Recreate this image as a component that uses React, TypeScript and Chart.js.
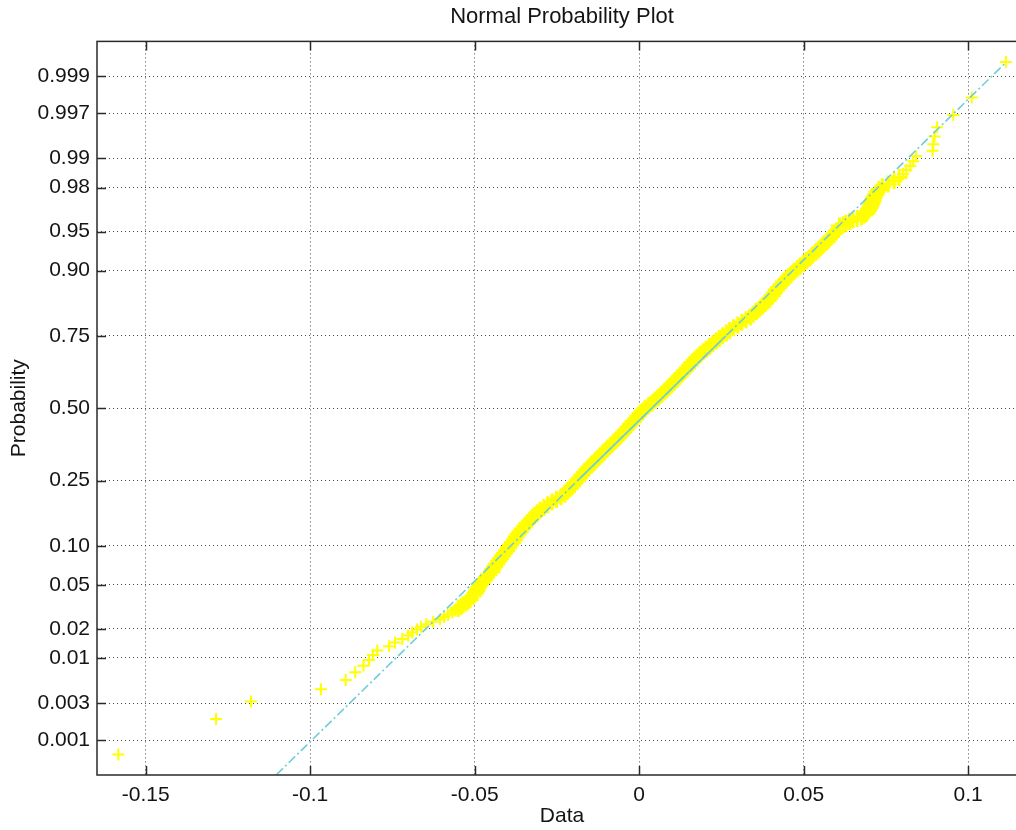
import { useEffect, useRef } from 'react';
import { Chart, registerables } from 'chart.js';

Chart.register(...registerables);

// ---------- data ----------
// lower tail: individual order statistics (x value, plotting probability)
const lowerTailX = [-0.1583, -0.1286, -0.1180, -0.0967, -0.0892, -0.0863, -0.0838, -0.0821, -0.0809, -0.0796,
  -0.0760, -0.0742, -0.0720, -0.0702, -0.0690, -0.0675, -0.0663, -0.0647, -0.0626, -0.0605,
  -0.0593, -0.0581, -0.0568, -0.0559, -0.0550, -0.0541, -0.0535, -0.0526, -0.0520, -0.0514];
const lowerTailP = [0.00063, 0.0019, 0.00316, 0.00443, 0.0057, 0.00696, 0.00823, 0.0095, 0.01076, 0.01203,
  0.0133, 0.01456, 0.01582, 0.01709, 0.01835, 0.01962, 0.02089, 0.02215, 0.02342, 0.02468,
  0.02595, 0.02722, 0.02848, 0.02975, 0.03101, 0.03228, 0.03354, 0.03481, 0.03608, 0.03734];

// dense central band
const bodyX = [-0.0505, -0.0498, -0.0494, -0.0489, -0.0484, -0.0477, -0.0470, -0.0464, -0.0457, -0.0448,
  -0.0445, -0.0439, -0.0433, -0.0427, -0.0421, -0.0415, -0.0409, -0.0403, -0.0397, -0.0391,
  -0.0385, -0.0379, -0.0374, -0.0368, -0.0362, -0.0356, -0.0348, -0.0341, -0.0333, -0.0326,
  -0.0318, -0.0310, -0.0301, -0.0290, -0.0278, -0.0265, -0.0251, -0.0237, -0.0226, -0.0218,
  -0.0210, -0.0203, -0.0196, -0.0188, -0.0181, -0.0174, -0.0167, -0.0160, -0.0153, -0.0145,
  -0.0136, -0.0128, -0.0120, -0.0112, -0.0104, -0.0096, -0.0088, -0.0079, -0.0071, -0.0063,
  -0.0055, -0.0047, -0.0040, -0.0033, -0.0026, -0.0018, -0.0011, -0.0004, 0.0003, 0.0011,
  0.0018, 0.0029, 0.0040, 0.0049, 0.0058, 0.0067, 0.0076, 0.0084, 0.0092, 0.0100,
  0.0108, 0.0116, 0.0124, 0.0132, 0.0139, 0.0147, 0.0154, 0.0161, 0.0168, 0.0176,
  0.0185, 0.0195, 0.0204, 0.0214, 0.0224, 0.0234, 0.0244, 0.0254, 0.0265, 0.0275,
  0.0287, 0.0300, 0.0312, 0.0325, 0.0338, 0.0347, 0.0356, 0.0365, 0.0375, 0.0383,
  0.0392, 0.0398, 0.0405, 0.0411, 0.0417, 0.0424, 0.0431, 0.0439, 0.0447, 0.0454,
  0.0462, 0.0471, 0.0481, 0.0490, 0.0500, 0.0509, 0.0518, 0.0527, 0.0536, 0.0545,
  0.0553, 0.0561, 0.0570, 0.0577, 0.0585, 0.0593, 0.0600];
const bodyP = [0.0401, 0.04235, 0.0446, 0.04705, 0.0495, 0.05215, 0.0548, 0.0577, 0.0606, 0.0637,
  0.0668, 0.07015, 0.0735, 0.07715, 0.0808, 0.08465, 0.0885, 0.09265, 0.0968, 0.1012,
  0.1056, 0.11035, 0.1151, 0.1201, 0.1251, 0.1304, 0.1357, 0.1413, 0.1469, 0.1528,
  0.1587, 0.1649, 0.1711, 0.1776, 0.1841, 0.1909, 0.1977, 0.2048, 0.2119, 0.21925,
  0.2266, 0.2343, 0.2420, 0.2499, 0.2578, 0.26605, 0.2743, 0.28275, 0.2912, 0.29985,
  0.3085, 0.31745, 0.3264, 0.3355, 0.3446, 0.3539, 0.3632, 0.37265, 0.3821, 0.3917,
  0.4013, 0.4110, 0.4207, 0.43055, 0.4404, 0.4503, 0.4602, 0.47015, 0.4801, 0.49005,
  0.5000, 0.50995, 0.5199, 0.52985, 0.5398, 0.5497, 0.5596, 0.56945, 0.5793, 0.5890,
  0.5987, 0.6083, 0.6179, 0.62735, 0.6368, 0.6461, 0.6554, 0.6645, 0.6736, 0.68255,
  0.6915, 0.70015, 0.7088, 0.71725, 0.7257, 0.73395, 0.7422, 0.7501, 0.7580, 0.7657,
  0.7734, 0.78075, 0.7881, 0.7952, 0.8023, 0.8091, 0.8159, 0.8224, 0.8289, 0.8351,
  0.8413, 0.8472, 0.8531, 0.8587, 0.8643, 0.8696, 0.8749, 0.8799, 0.8849, 0.88965,
  0.8944, 0.8988, 0.9032, 0.90735, 0.9115, 0.91535, 0.9192, 0.92285, 0.9265, 0.92985,
  0.9332, 0.9363, 0.9394, 0.9423, 0.9452, 0.94785, 0.9505];

// upper tail: individual order statistics
const upperTailX = [0.0609, 0.0620, 0.0629, 0.0640, 0.0650, 0.0663, 0.0676, 0.0685, 0.0691, 0.0695,
  0.0698, 0.0701, 0.0704, 0.0707, 0.0710, 0.0711, 0.0714, 0.0719, 0.0723, 0.0729,
  0.0739, 0.0757, 0.0775, 0.0790, 0.0802, 0.0812, 0.0824, 0.0833, 0.0842, 0.0892,
  0.0894, 0.0898, 0.0906, 0.0955, 0.1011, 0.1115];
const upperTailP = [0.95506, 0.95633, 0.95759, 0.95886, 0.96013, 0.96139, 0.96266, 0.96392, 0.96519, 0.96646,
  0.96772, 0.96899, 0.97025, 0.97152, 0.97278, 0.97405, 0.97532, 0.97658, 0.97785, 0.97911,
  0.98038, 0.98165, 0.98291, 0.98418, 0.98544, 0.98671, 0.98797, 0.98924, 0.9905, 0.99177,
  0.99304, 0.9943, 0.99557, 0.99684, 0.9981, 0.99937];

// reference line through the 1st and 3rd quartiles
const quartileX = [-0.0187, 0.0264];
const quartileP = [0.25, 0.75];

// axes
const xTickValues = [-0.15, -0.1, -0.05, 0, 0.05, 0.1];
const xTickLabels = ['-0.15', '-0.1', '-0.05', '0', '0.05', '0.1'];
const yTickProbs = [0.001, 0.003, 0.01, 0.02, 0.05, 0.1, 0.25, 0.5, 0.75, 0.9, 0.95, 0.98, 0.99, 0.997, 0.999];
const yTickLabels = ['0.001', '0.003', '0.01', '0.02', '0.05', '0.10', '0.25', '0.50', '0.75', '0.90', '0.95', '0.98', '0.99', '0.997', '0.999'];
const xLimits = [-0.1648, 0.1179];
const yLimitsZ = [-3.416, 3.416];

// ---------- probability (normal quantile) scale transform ----------
function norminv(p: number): number {
  const a = [-3.969683028665376e1, 2.209460984245205e2, -2.759285104469687e2, 1.38357751867269e2, -3.066479806614716e1, 2.506628277459239];
  const b = [-5.447609879822406e1, 1.615858368580409e2, -1.556989798598866e2, 6.680131188771972e1, -1.328068155288572e1];
  const c = [-7.784894002430293e-3, -3.223964580411365e-1, -2.400758277161838, -2.549732539343734, 4.374664141464968, 2.938163982698783];
  const d = [7.784695709041462e-3, 3.224671290700398e-1, 2.445134137142996, 3.754408661907416];
  const plow = 0.02425;
  if (p < plow) {
    const q = Math.sqrt(-2 * Math.log(p));
    return (((((c[0] * q + c[1]) * q + c[2]) * q + c[3]) * q + c[4]) * q + c[5]) / ((((d[0] * q + d[1]) * q + d[2]) * q + d[3]) * q + 1);
  }
  if (p > 1 - plow) {
    const q = Math.sqrt(-2 * Math.log(1 - p));
    return -(((((c[0] * q + c[1]) * q + c[2]) * q + c[3]) * q + c[4]) * q + c[5]) / ((((d[0] * q + d[1]) * q + d[2]) * q + d[3]) * q + 1);
  }
  const q = p - 0.5;
  const r = q * q;
  return (((((a[0] * r + a[1]) * r + a[2]) * r + a[3]) * r + a[4]) * r + a[5]) * q / (((((b[0] * r + b[1]) * r + b[2]) * r + b[3]) * r + b[4]) * r + 1);
}

const FONT = "'Liberation Sans', Arial, Helvetica, sans-serif";
const TEXT = '#141414';
const MARKER = 'rgb(255,255,0)';
const LINE = 'rgb(112,206,214)';

const framePlugin = {
  id: 'matlabFrame',
  afterDraw(chart: any) {
    const { ctx, chartArea } = chart;
    const { left, right, top, bottom } = chartArea;
    const xs = chart.scales.x;
    const ys = chart.scales.y;
    ctx.save();
    ctx.strokeStyle = '#2a2a2a';
    ctx.lineWidth = 1.5;
    ctx.strokeRect(left, top, right - left, bottom - top);
    ctx.beginPath();
    const tl = 9;
    xs.ticks.forEach((t: any) => {
      const px = Math.round(xs.getPixelForValue(t.value)) + 0.5;
      ctx.moveTo(px, bottom); ctx.lineTo(px, bottom - tl);
      ctx.moveTo(px, top); ctx.lineTo(px, top + tl);
    });
    ys.ticks.forEach((t: any) => {
      const py = Math.round(ys.getPixelForValue(t.value)) + 0.5;
      ctx.moveTo(left, py); ctx.lineTo(left + tl, py);
      ctx.moveTo(right, py); ctx.lineTo(right - tl, py);
    });
    ctx.stroke();
    ctx.restore();
  },
};

export default function App() {
  const ref = useRef<HTMLCanvasElement | null>(null);

  useEffect(() => {
    if (!ref.current) return;
    const obsX = [...lowerTailX, ...bodyX, ...upperTailX];
    const obsP = [...lowerTailP, ...bodyP, ...upperTailP];
    const points = obsX.map((x, i) => ({ x, y: norminv(obsP[i]) }));
    const bodyStart = lowerTailX.length;
    const bodyEnd = lowerTailX.length + bodyX.length;
    const inBody = (i: number) => i >= bodyStart - 6 && i < bodyEnd + 24;

    const z1 = norminv(quartileP[0]);
    const z3 = norminv(quartileP[1]);
    const zAt = (x: number) => z1 + ((x - quartileX[0]) * (z3 - z1)) / (quartileX[1] - quartileX[0]);
    const xmin = Math.min(...obsX);
    const xmax = Math.max(...obsX);

    const tickFont = { family: FONT, size: 21 };

    const chart = new Chart(ref.current, {
      type: 'scatter',
      data: {
        datasets: [
          {
            data: [{ x: xmin, y: zAt(xmin) }, { x: xmax, y: zAt(xmax) }],
            showLine: true,
            borderColor: LINE,
            borderWidth: 1.6,
            borderDash: [9, 3, 2, 3],
            pointRadius: 0,
            order: 0,
          },
          {
            data: [{ x: quartileX[0], y: z1 }, { x: quartileX[1], y: z3 }],
            showLine: true,
            borderColor: LINE,
            borderWidth: 1.6,
            pointRadius: 0,
            order: 0,
          },
          {
            data: points,
            showLine: false,
            pointStyle: 'cross',
            pointRadius: (c: any) => (inBody(c.dataIndex) ? 8.5 : 6),
            pointHoverRadius: (c: any) => (inBody(c.dataIndex) ? 8.5 : 6),
            pointBorderWidth: (c: any) => (inBody(c.dataIndex) ? 3 : 2),
            borderColor: MARKER,
            backgroundColor: MARKER,
            order: 1,
          },
        ],
      } as any,
      options: {
        responsive: false,
        devicePixelRatio: 1,
        animation: false,
        events: [],
        layout: { padding: { left: 0, right: 13, top: 0, bottom: 0 } },
        plugins: {
          legend: { display: false },
          tooltip: { enabled: false },
          title: {
            display: true,
            text: 'Normal Probability Plot',
            fullSize: false,
            color: TEXT,
            font: { family: FONT, size: 22, weight: 'normal' },
            padding: { top: 4, bottom: 11 },
          },
        },
        scales: {
          x: {
            type: 'linear',
            min: xLimits[0],
            max: xLimits[1],
            afterBuildTicks: (s: any) => {
              s.ticks = xTickValues.map((v) => ({ value: v }));
            },
            afterFit: (s: any) => {
              s.height = 55;
            },
            ticks: {
              callback: (_v: any, i: number) => xTickLabels[i],
              autoSkip: false,
              maxRotation: 0,
              padding: 8,
              color: TEXT,
              font: tickFont,
            },
            grid: { color: 'rgba(40,40,40,0.85)', lineWidth: 1, drawTicks: false },
            border: { display: false, dash: [1, 3] },
            title: {
              display: true,
              text: 'Data',
              color: TEXT,
              font: { family: FONT, size: 21 },
              padding: { top: 0, bottom: 1 },
            },
          },
          y: {
            type: 'linear',
            min: yLimitsZ[0],
            max: yLimitsZ[1],
            afterBuildTicks: (s: any) => {
              s.ticks = yTickProbs.map((p) => ({ value: norminv(p) }));
            },
            afterFit: (s: any) => {
              s.width = 97;
            },
            ticks: {
              callback: (_v: any, i: number) => yTickLabels[i],
              autoSkip: false,
              padding: 7,
              color: TEXT,
              font: tickFont,
            },
            grid: { color: 'rgba(40,40,40,0.85)', lineWidth: 1, drawTicks: false },
            border: { display: false, dash: [1, 3] },
            title: {
              display: true,
              text: 'Probability',
              color: TEXT,
              font: { family: FONT, size: 21 },
              padding: { top: 7, bottom: 0 },
            },
          },
        },
      } as any,
      plugins: [framePlugin],
    });
    return () => chart.destroy();
  }, []);

  return (
    <div style={{ position: 'fixed', left: 0, top: 0, width: 1016, height: 830, overflow: 'hidden', background: '#fff' }}>
      <canvas ref={ref} width={1040} height={830} style={{ width: 1040, height: 830, display: 'block' }} />
    </div>
  );
}
